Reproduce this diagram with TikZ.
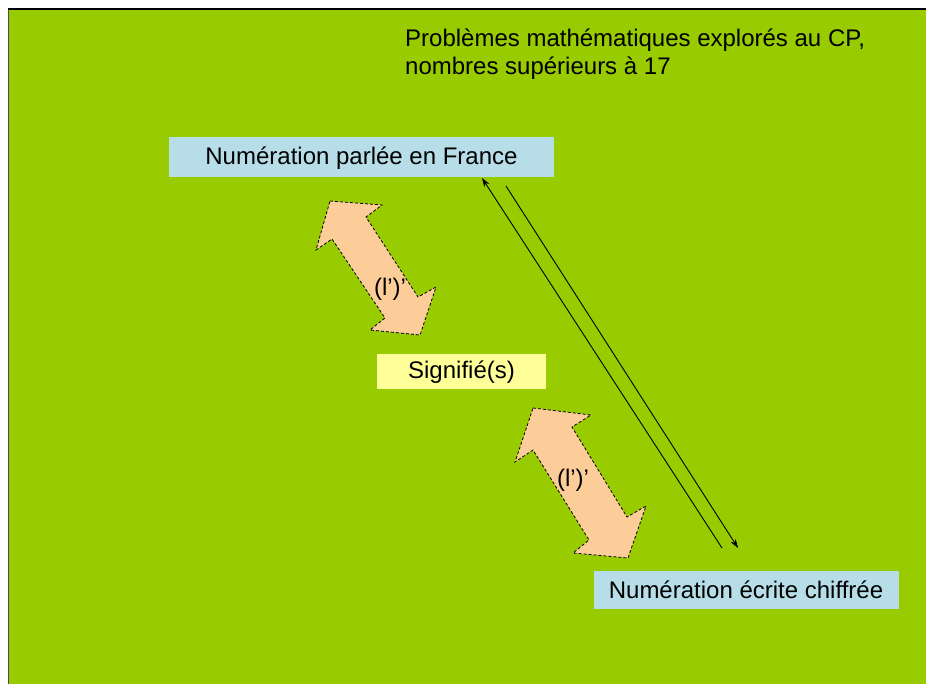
\documentclass[tikz,border=0pt]{standalone}
\usepackage{fontspec}
\setmainfont{Liberation Sans}
\usetikzlibrary{arrows.meta}
\definecolor{bggreen}{RGB}{153,204,0}
\definecolor{boxblue}{RGB}{183,222,232}
\definecolor{boxyellow}{RGB}{255,255,153}
\definecolor{arrowfill}{RGB}{252,204,153}
\tikzset{
  lbl/.style={inner sep=0pt, font=\fontsize{24}{28}\selectfont},
  blockarrow/.style={fill=arrowfill, draw=black, line width=0.8pt, dash pattern=on 3pt off 2pt},
  thinarrow/.style={draw=black, line width=0.9pt, -{Stealth[length=9pt,width=6pt]}}
}
\begin{document}
\begin{tikzpicture}[x=1pt,y=-1pt]
\useasboundingbox (0,0) rectangle (926,684);
\fill[white] (0,0) rectangle (926,684);
\fill[bggreen] (9,9) rectangle (926,684);
\draw[black!70, line width=1.5pt] (8.5,9) -- (8.5,684);
\draw[black, line width=1.5pt] (8,9) -- (926,9);

% title
\node[lbl, anchor=base west] (title) at (405,47) {Problèmes mathématiques explorés au CP,};
\node[lbl, anchor=base west] (title2) at (405,75) {nombres supérieurs à 17};

% boxes
\fill[boxblue] (169,137) rectangle (554,177);
\node[lbl] (parlee) at (361.5,158) {Numération parlée en France};
\fill[boxyellow] (377,354) rectangle (546,389);
\node[lbl] (signifie) at (461.5,372) {Signifié(s)};
\fill[boxblue] (594,571) rectangle (899,609);
\node[lbl] (ecrite) at (746,590) {Numération écrite chiffrée};

% block double arrows
\draw[blockarrow] (330,201) -- (382,205) -- (366,217) -- (418,297) -- (436,287)
  -- (420,335) -- (370,330) -- (385,318) -- (332,239) -- (316,250) -- cycle;
\node[lbl] (l1) at (390,289) {(l’)’};
\draw[blockarrow] (533,408) -- (591,415) -- (572,427) -- (627,517) -- (646,506)
  -- (628,558) -- (573,553) -- (589,540) -- (533,450) -- (515,462) -- cycle;
\node[lbl] (l2) at (573,480) {(l’)’};

% thin arrows
\coordinate (a1s) at (722,548);
\coordinate (a1e) at (482,178);
\coordinate (a2s) at (506,186);
\coordinate (a2e) at (738,548);
\draw[thinarrow] (a1s) -- (a1e);
\draw[thinarrow] (a2s) -- (a2e);
\end{tikzpicture}
\end{document}
